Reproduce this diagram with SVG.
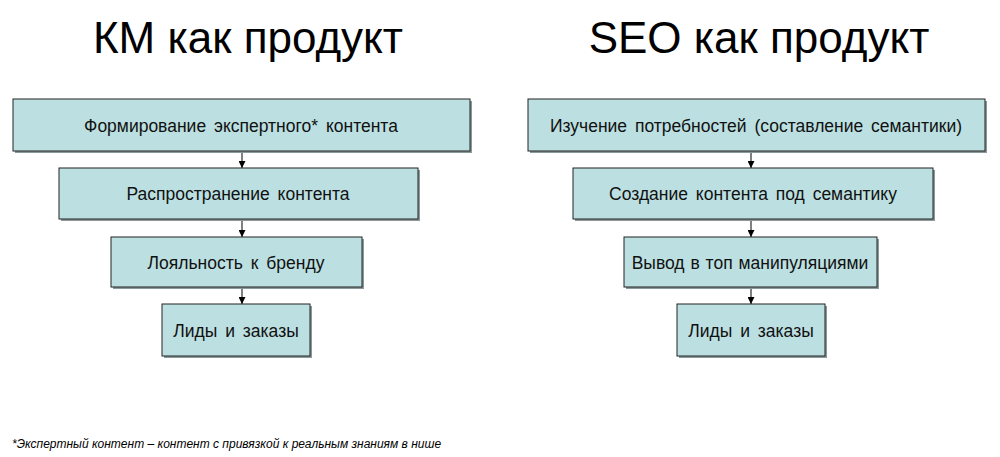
<svg xmlns="http://www.w3.org/2000/svg" width="1000" height="457" viewBox="0 0 1000 457">
<style>
.title{font-family:"Liberation Sans",Arial,sans-serif;font-size:44px;fill:#000;text-anchor:middle}
.box{fill:#BCE0E1;stroke:#222;stroke-width:1}
.shadow{fill:#8a9a9b}
.lbl{font-family:"Liberation Sans",Arial,sans-serif;font-size:17.5px;fill:#111;text-anchor:middle;word-spacing:3px}
.conn{stroke:#000;stroke-width:1;fill:none}
.note{font-family:"Liberation Sans",Arial,sans-serif;font-size:12px;font-style:italic;fill:#000}
</style>
<defs>
<marker id="arr" viewBox="0 0 10 10" refX="10" refY="5" markerWidth="7" markerHeight="7" markerUnits="userSpaceOnUse" orient="auto">
<path d="M0,0 L10,5 L0,10 z" fill="#000"/>
</marker>
</defs>
<rect width="1000" height="457" fill="#fff"/>
<text class="title" x="248" y="53">КМ как продукт</text>
<text class="title" x="759" y="53">SEO как продукт</text>

<g id="connectors">
<line class="conn" x1="242" y1="151" x2="242" y2="168" marker-end="url(#arr)"/>
<line class="conn" x1="242" y1="219" x2="242" y2="237" marker-end="url(#arr)"/>
<line class="conn" x1="242" y1="287" x2="242" y2="304" marker-end="url(#arr)"/>
<line class="conn" x1="751" y1="151" x2="751" y2="168" marker-end="url(#arr)"/>
<line class="conn" x1="751" y1="219" x2="751" y2="237" marker-end="url(#arr)"/>
<line class="conn" x1="751" y1="287" x2="751" y2="304" marker-end="url(#arr)"/>
</g>

<g id="km1"><rect class="shadow" x="15" y="101" width="457" height="52"/><rect class="box" x="13" y="99" width="457" height="52"/><text class="lbl" x="241" y="132">Формирование экспертного* контента</text></g>
<g id="km2"><rect class="shadow" x="61" y="170" width="359" height="51"/><rect class="box" x="59" y="168" width="359" height="51"/><text class="lbl" x="238" y="200">Распространение контента</text></g>
<g id="km3"><rect class="shadow" x="113" y="239" width="251" height="50"/><rect class="box" x="111" y="237" width="251" height="50"/><text class="lbl" x="236" y="269">Лояльность к бренду</text></g>
<g id="km4"><rect class="shadow" x="164" y="306" width="148" height="52"/><rect class="box" x="162" y="304" width="148" height="52"/><text class="lbl" x="236" y="337">Лиды и заказы</text></g>

<g id="seo1"><rect class="shadow" x="530" y="101" width="457" height="52"/><rect class="box" x="528" y="99" width="457" height="52"/><text class="lbl" x="756" y="132">Изучение потребностей (составление семантики)</text></g>
<g id="seo2"><rect class="shadow" x="575" y="170" width="360" height="51"/><rect class="box" x="573" y="168" width="360" height="51"/><text class="lbl" x="753" y="200">Создание контента под семантику</text></g>
<g id="seo3"><rect class="shadow" x="626" y="239" width="253" height="50"/><rect class="box" x="624" y="237" width="253" height="50"/><text class="lbl" x="750" y="269" style="word-spacing:1px">Вывод в топ манипуляциями</text></g>
<g id="seo4"><rect class="shadow" x="679" y="306" width="148" height="52"/><rect class="box" x="677" y="304" width="148" height="52"/><text class="lbl" x="751" y="337">Лиды и заказы</text></g>

<text class="note" x="12" y="448">*Экспертный контент – контент с привязкой к реальным знаниям в нише</text>
</svg>
